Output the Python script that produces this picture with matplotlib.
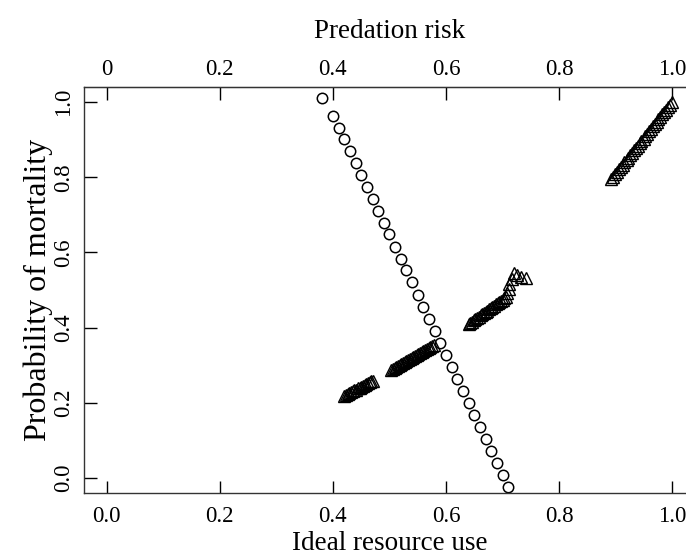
import numpy as np
import matplotlib
matplotlib.use("Agg")
import matplotlib.pyplot as plt

plt.rcParams['font.family'] = ['Liberation Serif', 'DejaVu Serif']

# circles: probability of mortality vs predation risk
risk_x = [0.38, 0.40, 0.41, 0.42, 0.43, 0.44, 0.45, 0.46, 0.47, 0.48, 0.49,
          0.50, 0.51, 0.52, 0.53, 0.54, 0.55, 0.56, 0.57, 0.58, 0.59, 0.60,
          0.61, 0.62, 0.63, 0.64, 0.65, 0.66, 0.67, 0.68, 0.69, 0.70, 0.71]
risk_y = [1.012, 0.964, 0.932, 0.901, 0.870, 0.837, 0.806, 0.775, 0.743, 0.710,
          0.679, 0.648, 0.615, 0.583, 0.552, 0.521, 0.488, 0.455, 0.423, 0.390,
          0.359, 0.327, 0.295, 0.263, 0.231, 0.199, 0.167, 0.135, 0.104, 0.073,
          0.041, 0.008, -0.023]

# triangles: probability of mortality vs ideal resource use
use_x = [
    # cluster 1
    0.420, 0.423, 0.426, 0.429, 0.432, 0.435, 0.438, 0.441, 0.444, 0.447,
    0.450, 0.453, 0.456, 0.459, 0.462, 0.465, 0.468, 0.471,
    # cluster 2
    0.503, 0.506, 0.509, 0.512, 0.515, 0.518, 0.521, 0.524, 0.527, 0.530,
    0.533, 0.536, 0.539, 0.542, 0.545, 0.548, 0.551, 0.554, 0.557, 0.560,
    0.563, 0.566, 0.569, 0.572, 0.575, 0.578,
    # cluster 3
    0.640, 0.643, 0.646, 0.649, 0.652, 0.655, 0.658, 0.661, 0.664, 0.667,
    0.670, 0.673, 0.676, 0.679, 0.682, 0.685, 0.688, 0.691, 0.694, 0.697,
    0.700, 0.703, 0.706, 0.708, 0.711, 0.712, 0.716, 0.720, 0.726, 0.733, 0.741,
    # cluster 4
    0.892, 0.895, 0.899, 0.902, 0.905, 0.909, 0.912, 0.915, 0.919, 0.922,
    0.925, 0.929, 0.932, 0.935, 0.939, 0.942, 0.945, 0.949, 0.952, 0.955,
    0.959, 0.962, 0.965, 0.969, 0.972, 0.975, 0.979, 0.982, 0.985, 0.989,
    0.992, 0.995, 0.999,
]
use_y = [
    0.219, 0.221, 0.224, 0.226, 0.228, 0.231, 0.233, 0.235, 0.238, 0.240,
    0.242, 0.245, 0.247, 0.249, 0.252, 0.254, 0.257, 0.259,
    0.287, 0.290, 0.292, 0.295, 0.298, 0.300, 0.303, 0.306, 0.308, 0.311,
    0.314, 0.316, 0.319, 0.322, 0.324, 0.327, 0.330, 0.332, 0.335, 0.338,
    0.340, 0.343, 0.346, 0.348, 0.351, 0.354,
    0.410, 0.413, 0.416, 0.420, 0.423, 0.426, 0.429, 0.433, 0.436, 0.439,
    0.442, 0.445, 0.449, 0.452, 0.455, 0.458, 0.462, 0.465, 0.468, 0.471,
    0.474, 0.478, 0.481, 0.492, 0.503, 0.516, 0.528, 0.546, 0.540, 0.534, 0.533,
    0.795, 0.801, 0.808, 0.814, 0.821, 0.827, 0.833, 0.840, 0.846, 0.852,
    0.859, 0.865, 0.872, 0.878, 0.884, 0.891, 0.897, 0.903, 0.910, 0.916,
    0.923, 0.929, 0.935, 0.942, 0.948, 0.954, 0.961, 0.967, 0.974, 0.980,
    0.986, 0.993, 0.999,
]

ticks = [0.0, 0.2, 0.4, 0.6, 0.8, 1.0]
bottom_labels = ["0.0", "0.2", "0.4", "0.6", "0.8", "1.0"]
top_labels = ["0", "0.2", "0.4", "0.6", "0.8", "1.0"]
y_labels = ["0.0", "0.2", "0.4", "0.6", "0.8", "1.0"]

fig = plt.figure(figsize=(6.86, 5.6), dpi=100)
ax = fig.add_axes([84/686, 67/560, 611/686, 406/560])

ax.plot(use_x, use_y, linestyle='none', marker='^', markersize=8.5,
        markerfacecolor='none', markeredgecolor='black', markeredgewidth=1.0)
ax.plot(risk_x, risk_y, linestyle='none', marker='o', markersize=7.5,
        markerfacecolor='none', markeredgecolor='black', markeredgewidth=1.1)

ax.set_xlim(-0.04, 1.04)
ax.set_ylim(-0.04, 1.04)

ax.set_xticks(ticks)
ax.set_xticklabels(bottom_labels)
ax.set_yticks(ticks)
ax.set_yticklabels(y_labels, rotation=90, va='center')
ax.tick_params(axis='x', direction='in', length=9, width=1.0,
               labelsize=16.5, pad=9, top=False)
ax.tick_params(axis='y', direction='in', length=9, width=1.0,
               labelsize=16.5, pad=7)

for s in ax.spines.values():
    s.set_linewidth(1.0)
    s.set_color('#333333')
ax.spines['right'].set_visible(False)

top = ax.secondary_xaxis('top')
top.set_xticks(ticks)
top.set_xticklabels(top_labels)
top.tick_params(direction='in', length=9, width=1.0, labelsize=16.5, pad=5)
top.set_xlabel("Predation risk", fontsize=19.5, labelpad=15)

ax.set_xlabel("Ideal resource use", fontsize=19.5, labelpad=3)
ax.set_ylabel("Probability of mortality", fontsize=23, labelpad=0)

fig.savefig("out.png", dpi=100)
